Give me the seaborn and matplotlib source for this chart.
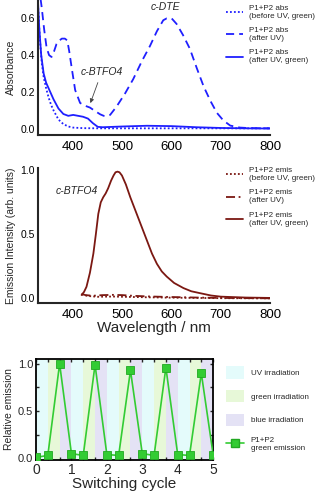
import numpy as np
import pandas as pd
import matplotlib
matplotlib.use("Agg")
import matplotlib.pyplot as plt
import seaborn as sns
from matplotlib.patches import Patch
from matplotlib.lines import Line2D
from matplotlib.ticker import AutoMinorLocator

# ---- absorbance data ----
abs_wl_before = [328, 332, 336, 340, 345, 350, 355, 360, 370, 380, 390, 400, 420, 450, 500, 600, 700, 800]
abs_before = [0.70, 0.50, 0.36, 0.28, 0.22, 0.17, 0.13, 0.10, 0.05, 0.025, 0.012, 0.006, 0.003, 0.002, 0.002, 0.002, 0.002, 0.002]

abs_wl_uv = [333, 336, 341, 346, 351, 356, 361, 366, 372, 377, 383, 388, 392, 397, 404, 414, 424, 434, 445,
             455, 462, 468, 475, 488, 505, 522, 540, 556, 570, 583, 590, 600, 610, 623, 637, 651, 665, 679, 692,
             705, 719, 739, 760, 800]
abs_uv = [0.72, 0.66, 0.54, 0.44, 0.40, 0.39, 0.42, 0.46, 0.48, 0.49, 0.49, 0.48, 0.42, 0.33, 0.21, 0.14, 0.125, 0.115, 0.095,
          0.078, 0.07, 0.068, 0.075, 0.12, 0.19, 0.27, 0.37, 0.45, 0.53, 0.59, 0.60, 0.60, 0.57, 0.51, 0.435, 0.33, 0.23, 0.15, 0.086,
          0.045, 0.017, 0.006, 0.003, 0.002]

abs_wl_green = [328, 331, 335, 340, 345, 350, 360, 370, 380, 390, 400, 410, 420, 430, 440, 450, 460, 500, 550, 600, 650, 700, 750, 800]
abs_green = [0.72, 0.55, 0.40, 0.30, 0.25, 0.22, 0.16, 0.11, 0.08, 0.07, 0.075, 0.07, 0.065, 0.055, 0.03, 0.01, 0.008, 0.012, 0.016, 0.014, 0.008, 0.004, 0.002, 0.001]

# ---- emission data ----
em_wl_before = [417, 430, 450, 480, 500, 550, 600, 650, 700, 800]
em_before = [0.030, 0.018, 0.012, 0.014, 0.012, 0.008, 0.005, 0.003, 0.001, 0.0]

em_wl_uv = [417, 425, 440, 460, 480, 500, 520, 550, 600, 650, 700, 800]
em_uv = [0.035, 0.025, 0.02, 0.025, 0.027, 0.025, 0.02, 0.015, 0.01, 0.006, 0.003, 0.0]

em_wl_green = [417, 422, 427, 434, 441, 446, 451, 456, 461, 466, 471, 477, 482, 486, 490, 494, 499, 507, 516, 529,
               540, 550, 560, 570, 580, 590, 605, 624, 640, 658, 680, 700, 750, 800]
em_green = [0.026, 0.05, 0.09, 0.2, 0.35, 0.50, 0.66, 0.75, 0.79, 0.82, 0.86, 0.92, 0.96, 0.985, 0.99, 0.985, 0.96, 0.89, 0.79, 0.66,
            0.55, 0.45, 0.35, 0.27, 0.21, 0.17, 0.12, 0.08, 0.055, 0.04, 0.022, 0.013, 0.006, 0.003]

# ---- switching data ----
cycle = [0, 1/3, 2/3, 1, 4/3, 5/3, 2, 7/3, 8/3, 3, 10/3, 11/3, 4, 13/3, 14/3, 5]
rel_emission = [0.01, 0.03, 1.0, 0.05, 0.03, 0.99, 0.04, 0.03, 0.93, 0.05, 0.03, 0.96, 0.04, 0.03, 0.90, 0.04]
phase_names = ["UV irradiation", "green irradiation", "blue irradiation"]
phase_colors = ["#e4fbfb", "#e7f8d8", "#e4e2f5"]
n_cycles = 5

sns.set_style("white")
plt.rcParams["font.family"] = ["Liberation Sans", "DejaVu Sans"]

blue = "#1f1fff"
red = "#7b1812"
green = "#33cc33"
dotted = (0, (1, 1.2))
dashed = (0, (4.5, 2.8))
dashdot = (0, (5, 2, 1, 2))

fig = plt.figure(figsize=(3.2, 4.95), dpi=100)
ax1 = fig.add_axes([0.118, 0.727, 0.726, 0.273])
ax2 = fig.add_axes([0.118, 0.387, 0.726, 0.274])
ax3 = fig.add_axes([0.1125, 0.0707, 0.5535, 0.204])


def style_spectrum_axis(ax):
    sns.despine(ax=ax)
    ax.spines["left"].set_linewidth(1.5)
    ax.spines["bottom"].set_linewidth(1.5)
    ax.xaxis.set_minor_locator(AutoMinorLocator(2))
    ax.yaxis.set_minor_locator(AutoMinorLocator(2))
    ax.tick_params(which="both", direction="in", length=2.5, width=1, colors="black")
    ax.tick_params(axis="x", labelsize=9.5, pad=4)
    ax.tick_params(axis="y", labelsize=7.5, pad=2)
    ax.set_xlim(328, 800)
    ax.set_xticks([400, 500, 600, 700, 800])


# absorbance panel
sns.lineplot(x=abs_wl_before, y=abs_before, ax=ax1, color=blue, lw=1.3, linestyle=dotted)
sns.lineplot(x=abs_wl_uv, y=abs_uv, ax=ax1, color=blue, lw=1.3, linestyle=dashed)
sns.lineplot(x=abs_wl_green, y=abs_green, ax=ax1, color=blue, lw=1.3)
style_spectrum_axis(ax1)
ax1.set_ylim(-0.035, 0.70)
ax1.set_yticks([0.0, 0.2, 0.4, 0.6])
ax1.set_ylabel("Absorbance", fontsize=7.5, labelpad=3)
ax1.text(588, 0.66, "c-DTE", style="italic", fontsize=7.5, ha="center", va="center")
ax1.text(459, 0.31, "c-BTFO4", style="italic", fontsize=7.5, ha="center", va="center")
ax1.annotate("", xy=(433, 0.125), xytext=(452, 0.265),
             arrowprops=dict(arrowstyle="-|>", color="#444444", lw=0.6, mutation_scale=6))
h1 = [Line2D([], [], color=blue, lw=1.3, linestyle=dotted),
      Line2D([], [], color=blue, lw=1.3, linestyle=dashed),
      Line2D([], [], color=blue, lw=1.3)]
fig.legend(h1, ["P1+P2 abs\n(before UV, green)", "P1+P2 abs\n(after UV)", "P1+P2 abs\n(after UV, green)"],
           loc="upper left", bbox_to_anchor=(0.69, 1.0), frameon=False, fontsize=5.8,
           handlelength=2.2, handletextpad=0.7, labelspacing=0.9, borderaxespad=0.2)

# emission panel
sns.lineplot(x=em_wl_before, y=em_before, ax=ax2, color=red, lw=1.3, linestyle=dotted)
sns.lineplot(x=em_wl_uv, y=em_uv, ax=ax2, color=red, lw=1.3, linestyle=dashdot)
sns.lineplot(x=em_wl_green, y=em_green, ax=ax2, color=red, lw=1.3)
style_spectrum_axis(ax2)
ax2.set_ylim(-0.04, 1.02)
ax2.set_yticks([0.0, 0.5, 1.0])
ax2.set_ylabel("Emission Intensity (arb. units)", fontsize=7.5, labelpad=3)
ax2.set_xlabel("Wavelength / nm", fontsize=11, labelpad=0)
ax2.text(407, 0.84, "c-BTFO4", style="italic", fontsize=7.5, ha="center", va="center")
h2 = [Line2D([], [], color=red, lw=1.3, linestyle=dotted),
      Line2D([], [], color=red, lw=1.3, linestyle=dashdot),
      Line2D([], [], color=red, lw=1.3)]
fig.legend(h2, ["P1+P2 emis\n(before UV, green)", "P1+P2 emis\n(after UV)", "P1+P2 emis\n(after UV, green)"],
           loc="upper left", bbox_to_anchor=(0.69, 0.672), frameon=False, fontsize=5.8,
           handlelength=2.2, handletextpad=0.7, labelspacing=0.9, borderaxespad=0.2)

# switching panel
for c in range(n_cycles):
    for p, col in enumerate(phase_colors):
        ax3.axvspan(c + p / 3, c + (p + 1) / 3, color=col, lw=0, zorder=0)
sns.lineplot(x=cycle, y=rel_emission, ax=ax3, color=green, lw=1.2, marker="s", markersize=5.5,
             markeredgecolor="#22a822", markeredgewidth=0.6, zorder=3)
ax3.set_xlim(0, 5)
ax3.set_ylim(-0.018, 1.05)
ax3.set_yticks([0.0, 0.5, 1.0])
ax3.set_xticks([0, 1, 2, 3, 4, 5])
ax3.yaxis.set_minor_locator(AutoMinorLocator(2))
ax3.xaxis.set_minor_locator(AutoMinorLocator(3))
for s in ax3.spines.values():
    s.set_linewidth(1.3)
    s.set_color("black")
ax3.tick_params(which="both", direction="in", length=2.5, width=1, top=True, right=True, bottom=True, left=True)
ax3.tick_params(axis="x", labelsize=10, pad=2)
ax3.tick_params(axis="y", labelsize=8, pad=2)
ax3.set_xlabel("Switching cycle", fontsize=11, labelpad=0)
ax3.set_ylabel("Relative emission", fontsize=7.5, labelpad=3)
h3 = [Patch(facecolor=c, edgecolor="none") for c in phase_colors]
h3.append(Line2D([], [], color=green, lw=1.2, marker="s", markersize=5.5, markeredgecolor="#22a822"))
fig.legend(h3, phase_names + ["P1+P2\ngreen emission"], loc="upper left", bbox_to_anchor=(0.69, 0.27),
           frameon=False, fontsize=5.8, handlelength=2.3, handleheight=2.0, handletextpad=0.8,
           labelspacing=1.4, borderaxespad=0.2)

fig.savefig("out.png", dpi=100)
